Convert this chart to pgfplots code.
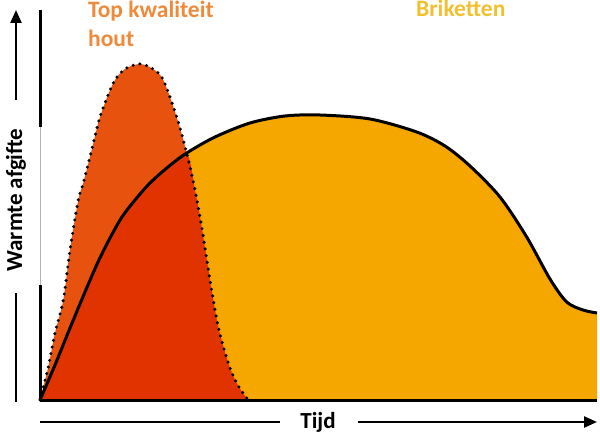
\documentclass[border=0pt]{standalone}
\usepackage{pgfplots}
\pgfplotsset{compat=1.18}
\usepackage{fontspec}
\setmainfont{Carlito}
\usetikzlibrary{arrows.meta}
\definecolor{woodlight}{HTML}{E7530F}
\definecolor{wooddark}{HTML}{E03300}
\definecolor{briq}{HTML}{F5A700}
\definecolor{woodtxt}{HTML}{EE8A3A}
\definecolor{briqtxt}{HTML}{F2C02E}
\begin{document}
\begin{tikzpicture}
\begin{axis}[
  anchor=origin, at={(0pt,0pt)},
  scale only axis, width=557pt, height=390pt,
  xmin=0, xmax=557, ymin=0, ymax=390,
  axis lines=none, clip=false,
]
% wood (full)
\addplot[fill=woodlight, draw=none, smooth] coordinates {
(0,0) (1.7,7) (8.3,33) (15,67) (23.3,100) (30,150) (38.3,200) (43.3,217) (51.7,250) (60,283) (73.3,317) (85,331) (100,336) (113,331) (123.3,320) (136.7,283) (146.7,247) (155,210) (161.7,173) (170,120) (178.3,73) (188.3,37) (196.7,17) (206.7,2) (212,0)
} \closedcycle;
% briquettes
\addplot[fill=briq, draw=none, smooth] coordinates {
(0,0) (15,35) (30,72) (45,108) (58,138) (70,162) (82,183) (95,200) (110,217) (128,233) (146.7,247) (175,263) (210,277) (245,284) (280,285) (330,281) (376.7,268) (405,254) (430,234) (460,203) (486.7,163) (510,121) (526.7,98) (543,90) (557,87)
} -- (axis cs:557,0) -- cycle;
% overlap
\addplot[fill=wooddark, draw=none, smooth] coordinates {
(0,0) (15,35) (30,72) (45,108) (58,138) (70,162) (82,183) (95,200) (110,217) (128,233) (146.7,247) (155,210) (161.7,173) (170,120) (178.3,73) (188.3,37) (196.7,17) (206.7,2) (212,0)
} \closedcycle;
% briquette outline
\addplot[black, line width=3pt, smooth] coordinates {
(0,0) (15,35) (30,72) (45,108) (58,138) (70,162) (82,183) (95,200) (110,217) (128,233) (146.7,247) (175,263) (210,277) (245,284) (280,285) (330,281) (376.7,268) (405,254) (430,234) (460,203) (486.7,163) (510,121) (526.7,98) (543,90) (557,87)
};
% wood outline
\addplot[black, line width=3.4pt, line cap=round, dash pattern=on 0pt off 6.8pt, smooth] coordinates {
(0,0) (1.7,7) (8.3,33) (15,67) (23.3,100) (30,150) (38.3,200) (43.3,217) (51.7,250) (60,283) (73.3,317) (85,331) (100,336) (113,331) (123.3,320) (136.7,283) (146.7,247) (155,210) (161.7,173) (170,120) (178.3,73) (188.3,37) (196.7,17) (206.7,2) (212,0)
};
\end{axis}
% axes
\draw[black, line width=3pt] (0pt,0pt) -- (557pt,0pt);
\draw[black, line width=3pt] (0pt,390pt) -- (0pt,273pt);
\draw[black, line width=3pt] (0pt,115pt) -- (0pt,0pt);
\draw[black!30, line width=0.9pt] (0pt,273pt) -- (0pt,115pt);
% left arrow
\draw[black, line width=2.4pt, -{Triangle[length=13pt,width=11pt]}] (-24pt,300pt) -- (-24pt,390pt);
\draw[black, line width=2.4pt] (-24pt,107pt) -- (-24pt,-2pt);
\node[rotate=90, font=\fontsize{23}{27}\selectfont\bfseries] at (-24pt,200pt) {Warmte afgifte};
% bottom arrow
\draw[black, line width=2.4pt] (0pt,-22pt) -- (240pt,-22pt);
\draw[black, line width=2.4pt, -{Triangle[length=13pt,width=11pt]}] (318pt,-22pt) -- (557pt,-22pt);
\node[font=\fontsize{23}{27}\selectfont\bfseries] at (278pt,-22pt) {Tijd};
% titles
\node[anchor=base west, text=woodtxt, font=\fontsize{23.5}{27}\selectfont\bfseries, inner sep=0pt] at (48pt,382pt) {Top kwaliteit};
\node[anchor=base west, text=woodtxt, font=\fontsize{23.5}{27}\selectfont\bfseries, inner sep=0pt] at (48pt,353pt) {hout};
\node[anchor=base west, text=briqtxt, font=\fontsize{23.5}{27}\selectfont\bfseries, inner sep=0pt] at (376pt,383pt) {Briketten};
\path[use as bounding box] (-40pt,-35pt) rectangle (560pt,400pt);
\end{tikzpicture}
\end{document}
